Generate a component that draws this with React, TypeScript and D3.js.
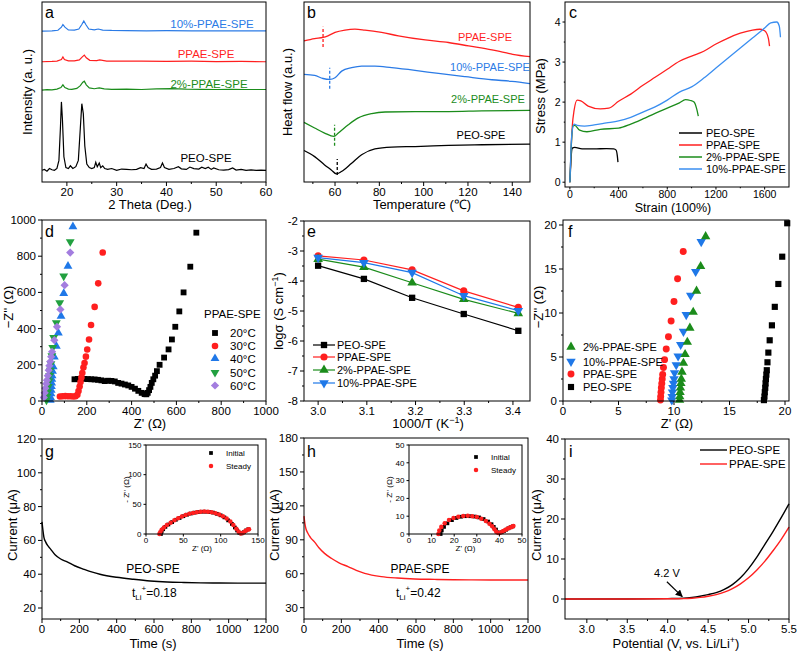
import React from 'react';
import * as d3 from 'd3';

type P = [number, number];

// ---------- a: XRD ----------
const xrdPeo: P[] = [[15,6.5],[15.5,7],[16,6],[16.5,7.5],[17,6.8],[17.5,6.5],[18,7.5],[18.4,12],[18.7,30],[18.9,44.5],[19.1,35],[19.4,14],[19.8,8],[20.3,7.5],[20.7,9],[21.2,7.5],[21.8,8.5],[22.3,12],[22.7,30],[23.0,43.5],[23.3,38],[23.6,20],[24,10],[24.5,8],[25,7.5],[25.5,8],[25.8,11],[26.1,8.5],[26.5,10.5],[26.8,8],[27.2,9],[27.6,7.5],[28.2,7],[29,7.5],[30,6.5],[31,7.2],[32,7],[33,6.8],[34,7],[34.8,8],[35.5,7.5],[35.9,10],[36.3,8],[37,7],[38,7.2],[38.8,8],[39.2,10.5],[39.6,8],[40.5,7],[41.5,7.5],[42.4,8.5],[43,7.3],[44,7],[44.7,8.3],[45.5,7.4],[46.5,7.2],[47.1,8.2],[47.8,7.5],[48.4,8.2],[49,7],[49.5,7.8],[50.5,6.8],[51.5,6.6],[52.5,6.9],[53.3,7.8],[54,6.6],[55,7],[56,6.5],[57,6.7],[58,6.5],[59,6.6],[60,6.5]];
const xrd2: P[] = [[15,51],[16,51.3],[17,51.2],[18,51.6],[18.8,52.5],[19.2,54],[19.6,52.5],[20.3,51.6],[21,51.5],[22,52],[22.7,53.5],[23.2,55.5],[23.5,56],[23.9,54],[24.5,52.3],[25.5,51.8],[26.5,52.3],[27.5,51.7],[29,51.5],[32,51.6],[35,51.4],[38,51.7],[41,51.9],[44,51.6],[47,51.5],[50,51.4],[53,51.5],[56,51.4],[60,51.4]];
const xrdPpae: P[] = [[15,66.8],[17,67],[18,67.2],[18.9,68],[19.2,69.5],[19.5,68],[20.3,67.3],[21.5,67.3],[22.5,67.8],[23.1,69.5],[23.5,70.5],[23.9,69],[24.6,67.6],[26,67.4],[26.6,67.8],[28,67.2],[31,67.1],[35,67.2],[40,67],[45,67.1],[50,66.9],[55,67],[60,66.8]];
const xrd10: P[] = [[15,83.8],[17,84],[18.2,84.3],[18.9,86],[19.2,87.5],[19.6,86],[20.3,84.5],[21.5,84.4],[22.4,85],[23,87.5],[23.4,89.5],[23.8,87.5],[24.4,85],[25.5,84.5],[26.3,85],[27.2,84.4],[29,84.2],[32,84.1],[36,84],[40,84.1],[45,84],[50,84],[55,84],[60,84]];
const xrdTicks = [20, 30, 40, 50, 60];

// ---------- b: DSC ----------
const dscPpae: P[] = [[46,78.4],[50.8,79.7],[54.6,80.3],[56.8,81.2],[60,83.1],[64.5,84.4],[69,84.9],[73.5,84.4],[81,83.1],[88.6,81.2],[100.7,78.9],[111.2,77.5],[120.3,75.6],[130.8,73.4],[136.8,71.9],[140.2,70.9],[148,69.7]];
const dsc10: P[] = [[46,59.8],[50.8,59.2],[54.6,57.5],[57.6,57],[60,57.9],[63,61.6],[67.5,63.5],[72,64.4],[78,64.4],[85.6,63.5],[96.1,62],[106.7,60.3],[118.8,58.5],[130.8,56.8],[139.8,55.9],[148,54.7]];
const dsc2: P[] = [[46,33.1],[50.8,30],[55.3,27.2],[59.5,25.3],[61.5,27.2],[66,31.8],[70.5,35.6],[76.6,38],[82.6,38.9],[96.1,39.1],[111.2,39.1],[126.3,39.5],[148,39.8]];
const dscPeo: P[] = [[46,17.5],[50.8,14.1],[55.3,9.5],[58.3,6.7],[60.6,4.5],[62.9,5.8],[67.5,10.4],[72,15.1],[78,18.4],[85.6,19.4],[96.1,19.7],[111.2,20.3],[126.3,20.7],[148,21]];
const dscMarkT = [54.6, 57.6, 59.8, 61];
const dscMarkLo = [75, 51.8, 20.1, 3.9];
const dscMarkHi = [86.2, 63.5, 31.8, 12.8];
const dscTicks = [60, 80, 100, 120, 140];

// ---------- c: stress-strain ----------
const ssPeo: P[] = [[0,0],[5,0.3],[10,0.6],[20,0.85],[40,0.87],[100,0.83],[200,0.83],[300,0.84],[360,0.83],[380,0.8],[390,0.65],[395,0.5]];
const ssPpae: P[] = [[0,0],[10,0.8],[20,1.4],[35,1.8],[60,2.05],[90,2.03],[150,1.9],[250,1.83],[320,1.85],[400,2.02],[500,2.2],[600,2.42],[700,2.62],[800,2.82],[900,3.02],[1000,3.15],[1100,3.27],[1200,3.45],[1300,3.6],[1400,3.72],[1500,3.8],[1560,3.82],[1600,3.78],[1630,3.6],[1640,3.4]];
const ss2: P[] = [[0,0],[10,0.8],[25,1.4],[40,1.42],[80,1.3],[140,1.26],[250,1.32],[400,1.35],[500,1.45],[600,1.58],[700,1.72],[800,1.85],[900,1.98],[950,2.06],[990,2.04],[1020,2.0],[1040,1.85],[1055,1.65]];
const ss10: P[] = [[0,0],[10,0.9],[20,1.3],[35,1.45],[60,1.42],[120,1.4],[200,1.43],[300,1.48],[400,1.53],[500,1.62],[600,1.75],[700,1.88],[800,2.05],[900,2.25],[1000,2.38],[1100,2.6],[1200,2.85],[1300,3.1],[1400,3.35],[1500,3.6],[1600,3.85],[1650,3.98],[1700,4.0],[1720,3.9],[1730,3.62]];
const ssXTicks = [0, 400, 800, 1200, 1600];
const ssYTicks = [0, 1, 2, 3, 4];

// ---------- d: EIS of PPAE-SPE ----------
const eis20: P[] = [[145,120],[160,122],[175,122],[190,122],[205,121],[220,120],[235,119],[250,117],[265,114],[280,110],[295,112],[310,111],[325,108],[340,100],[355,96],[370,91],[385,86],[400,78],[415,68],[430,56],[445,45],[458,38],[466,37],[472,45],[478,60],[484,78],[490,100],[497,120],[505,140],[513,165],[525,200],[545,240],[565,285],[580,340],[595,410],[613,495],[632,600],[662,742],[689,930]];
const eis30: P[] = [[80,25],[92,26],[104,27],[116,26],[128,26],[140,25],[150,26],[158,35],[163,55],[168,80],[172,105],[176,130],[180,155],[185,185],[190,210],[196,245],[202,285],[210,340],[219,420],[235,520],[251,650],[271,820]];
const eis40: P[] = [[37,5],[38,20],[40,40],[41,60],[42,80],[43,100],[44,120],[45,140],[47,165],[50,190],[55,243],[64,303],[73,376],[85,469],[97,594],[116,745],[138,963]];
const eis50: P[] = [[20,5],[22,25],[25,50],[28,80],[31,110],[34,140],[37,170],[40,205],[44,250],[48,295],[52,350],[64,432],[79,542],[97,690],[126,880]];
const eis60: P[] = [[8,20],[12,45],[15,70],[19,95],[22,115],[26,140],[30,170],[33,195],[37,218],[41,245],[45,272],[55,336],[67,410],[82,506],[101,640],[126,820]];
const eisTemps = ['20°C', '30°C', '40°C', '50°C', '60°C'];
const eisTicks = [0, 200, 400, 600, 800, 1000];

// ---------- e: Arrhenius ----------
const invT = [3.0, 3.094, 3.193, 3.299, 3.411];
const logPeo = [-3.49, -3.93, -4.56, -5.10, -5.66];
const logPpae = [-3.16, -3.30, -3.63, -4.33, -4.88];
const log2 = [-3.27, -3.54, -4.06, -4.61, -5.08];
const log10 = [-3.22, -3.39, -3.72, -4.49, -4.99];
const arrXTicks = [3.0, 3.1, 3.2, 3.3, 3.4];
const arrYTicks = [-2, -3, -4, -5, -6, -7, -8];

// ---------- f: EIS high frequency ----------
const hfPeo: P[] = [[18.1,0.1],[18.15,0.5],[18.18,1.0],[18.22,1.5],[18.25,2.0],[18.28,2.5],[18.32,3.0],[18.36,3.5],[18.42,4.4],[18.5,5.5],[18.62,6.9],[18.82,8.6],[19.08,10.7],[19.4,13.3],[19.75,16.4],[20.2,20.2]];
const hfPpae: P[] = [[8.78,0.1],[8.8,0.5],[8.83,1.0],[8.86,1.5],[8.9,2.0],[8.94,2.5],[8.98,3.0],[9.05,3.8],[9.15,4.7],[9.3,5.9],[9.5,7.3],[9.74,9.1],[10.0,11.3],[10.32,13.9],[10.83,17.0]];
const hf10: P[] = [[9.8,0.1],[9.83,0.5],[9.86,1.0],[9.9,1.5],[9.95,2.0],[10.0,2.5],[10.05,3.2],[10.2,4.1],[10.37,5.1],[10.6,6.4],[10.85,7.9],[11.1,9.8],[11.5,12.0],[11.95,14.7],[12.45,18.1]];
const hf2: P[] = [[10.5,0.1],[10.52,0.5],[10.55,1.0],[10.58,1.5],[10.62,2.0],[10.66,2.5],[10.72,3.3],[10.85,4.3],[11.0,5.3],[11.2,6.7],[11.43,8.3],[11.73,10.1],[12.03,12.5],[12.4,15.3],[12.85,18.7]];
const hfTicks = [0, 5, 10, 15, 20];

// ---------- g/h: chronoamperometry ----------
const caPeo: P[] = [[0,71],[5,66],[10,62],[20,59],[30,57],[45,55],[70,51.5],[100,49],[135,47.3],[175,45],[225,42.9],[270,41.2],[310,40],[400,38.2],[490,37],[580,36],[670,35.4],[760,35.1],[850,34.9],[950,34.8],[1050,34.7],[1200,34.7]];
const caPpae: P[] = [[0,111],[5,104],[10,100],[20,96],[35,92],[57,88],[80,83],[110,78],[146,73.7],[190,69.5],[236,66.3],[280,63],[325,60.4],[414,57.5],[500,56.2],[593,55.4],[700,55],[800,54.7],[900,54.6],[1000,54.5],[1200,54.5]];
const timeTicks = [0, 200, 400, 600, 800, 1000, 1200];
const gYTicks = [20, 40, 60, 80, 100, 120];
const hYTicks = [30, 60, 90, 120, 150, 180];

const insGInit: P[] = [[20,0],[21,4],[23,8],[26,12],[30,16],[35,20],[40,24],[45,27],[50,30],[55,32.5],[60,34.5],[65,36],[70,37],[75,37.5],[80,37.5],[85,37],[90,36],[95,34],[100,31.5],[105,28],[110,23],[115,17],[119,11],[122,6],[125,2],[128,1],[131,3],[134,6],[137,8]];
const insGSteady: P[] = [[18,0],[19,3],[21,7],[24,11],[28,15],[33,19],[38,23],[43,26.5],[48,29.5],[53,32],[58,34],[63,35.5],[68,36.8],[73,37.5],[78,37.8],[83,37.5],[88,36.5],[93,35],[98,33],[103,30],[108,26],[113,21],[117,15],[121,9],[124,4],[127,1],[130,2],[133,5],[136,7],[138,8]];
const insHInit: P[] = [[14,0],[14.5,2],[15.5,4],[17,6],[19,7.8],[21,9],[23,9.7],[25,10],[27,10],[29,9.8],[31,9.3],[33,8.4],[35,7],[36.5,5.5],[37.5,4],[38.5,2.5],[39.2,1],[40,0.6],[41,1],[42,1.6],[43,2.4],[44,3.2],[45,3.8],[46,4.3]];
const insHSteady: P[] = [[13,0],[13.4,2],[14.3,4],[15.8,6],[17.7,7.8],[19.7,9],[21.8,9.7],[24,10.1],[26,10.2],[28,10],[30,9.5],[32,8.6],[34,7.3],[35.6,5.8],[36.8,4.3],[37.8,2.7],[38.6,1.2],[39.5,0.6],[40.5,0.9],[41.5,1.5],[42.5,2.2],[43.5,2.9],[44.5,3.5],[45.5,4],[46.2,4.5]];
const insGTicks = [0, 50, 100, 150];
const insHTicks = [0, 10, 20, 30, 40, 50];

// ---------- i: LSV ----------
const lsvPeo: P[] = [[2.73,0],[3.0,0],[3.5,0],[4.0,0.1],[4.2,0.2],[4.3,0.4],[4.4,0.7],[4.5,1.1],[4.6,1.6],[4.7,2.4],[4.8,3.6],[4.9,5.3],[5.0,7.6],[5.1,10.4],[5.2,13.6],[5.3,16.8],[5.4,20.2],[5.5,23.8]];
const lsvPpae: P[] = [[2.73,0],[3.0,0],[3.5,0],[4.0,0.05],[4.2,0.1],[4.3,0.2],[4.4,0.4],[4.5,0.7],[4.6,1.1],[4.7,1.7],[4.8,2.6],[4.9,3.8],[5.0,5.3],[5.1,7.2],[5.2,9.4],[5.3,12],[5.4,14.8],[5.5,18]];
const lsvXTicks = [3.0, 3.5, 4.0, 4.5, 5.0, 5.5];
const lsvYTicks = [0, 10, 20, 30, 40];

const FONT = 'Arial, "Liberation Sans", sans-serif';
const BLACK = '#000';
const RED = '#ff1f1f';
const GREEN = '#1b8c1b';
const BLUE = '#2b7be6';
const TGREEN = '#22a040';
const TBLUE = '#1f78e8';
const PURPLE = '#a37ddf';

type Lin = d3.ScaleLinear<number, number>;
const sc = (d: [number, number], r: [number, number]) => d3.scaleLinear().domain(d).range(r);
const path = (x: Lin, y: Lin, pts: P[], smooth = true) =>
  (smooth ? d3.line<P>().x(p => x(p[0])).y(p => y(p[1])).curve(d3.curveMonotoneX)
    : d3.line<P>().x(p => x(p[0])).y(p => y(p[1])))(pts) || '';

const sym = (kind: string, size: number) => {
  const t = kind === 'square' || kind === 'diamond' ? d3.symbolSquare
    : kind === 'circle' ? d3.symbolCircle : d3.symbolTriangle;
  return d3.symbol().type(t).size(size)() || '';
};
const rot = (kind: string) => (kind === 'down' ? 180 : kind === 'diamond' ? 45 : 0);

const Marker = ({ cx, cy, kind, size, color }: { cx: number; cy: number; kind: string; size: number; color: string }) => (
  <path d={sym(kind, size)} transform={`translate(${cx},${cy}) rotate(${rot(kind)})`} fill={color} />
);

interface AxProps {
  x: Lin; y: Lin; xt: number[]; yt?: number[]; xm?: number[]; ym?: number[];
  xf?: (v: number) => string; yf?: (v: number) => string; fs?: number; tl?: number;
}
const Axes = ({ x, y, xt, yt = [], xm = [], ym = [], xf = String, yf = String, fs = 11.5, tl = 4 }: AxProps) => {
  const [l, r] = x.range();
  const [b, t] = y.range();
  return (
    <g fontFamily={FONT} fontSize={fs}>
      <rect x={l} y={t} width={r - l} height={b - t} fill="none" stroke="#000" strokeWidth={1} />
      {xt.map(v => (
        <g key={'x' + v}>
          <line x1={x(v)} x2={x(v)} y1={b} y2={b + tl} stroke="#000" />
          <text x={x(v)} y={b + tl + fs * 0.85} textAnchor="middle">{xf(v)}</text>
        </g>
      ))}
      {xm.map(v => <line key={'xm' + v} x1={x(v)} x2={x(v)} y1={b} y2={b + tl / 2} stroke="#000" />)}
      {yt.map(v => (
        <g key={'y' + v}>
          <line x1={l - tl} x2={l} y1={y(v)} y2={y(v)} stroke="#000" />
          <text x={l - tl - 2} y={y(v) + fs * 0.35} textAnchor="end">{yf(v)}</text>
        </g>
      ))}
      {ym.map(v => <line key={'ym' + v} x1={l - tl / 2} x2={l} y1={y(v)} y2={y(v)} stroke="#000" />)}
    </g>
  );
};

const Title = ({ x, y, children, rotate = false, fs = 13 }: { x: number; y: number; children: React.ReactNode; rotate?: boolean; fs?: number }) => (
  <text x={x} y={y} fontFamily={FONT} fontSize={fs} textAnchor="middle" transform={rotate ? `rotate(-90,${x},${y})` : undefined}>{children}</text>
);
const Letter = ({ x, y, s }: { x: number; y: number; s: string }) => (
  <text x={x} y={y} fontFamily={FONT} fontSize={16}>{s}</text>
);
const Lbl = ({ x, y, s, c, fs = 11.5, anchor = 'middle' }: { x: number; y: number; s: string; c: string; fs?: number; anchor?: string }) => (
  <text x={x} y={y} fontFamily={FONT} fontSize={fs} fill={c} textAnchor={anchor as any}>{s}</text>
);

const TLi = ({ x, y, v }: { x: number; y: number; v: string }) => (
  <text x={x} y={y} fontFamily={FONT} fontSize={12}>t<tspan fontSize={8} dy={3}>Li</tspan><tspan fontSize={8} dy={-9}>+</tspan><tspan dy={6}>={v}</tspan></text>
);

const minors = (a: number, b: number, s: number) => d3.range(a, b + s / 2, s);

function PanelA() {
  const x = sc([15, 60], [42, 266]);
  const y = sc([0, 100], [182, 2]);
  return (
    <g>
      {[[xrdPeo, BLACK], [xrd2, GREEN], [xrdPpae, RED], [xrd10, BLUE]].map(([d, c], i) => (
        <path key={i} d={path(x, y, d as P[], false)} fill="none" stroke={c as string} strokeWidth={1.2} />
      ))}
      <Axes x={x} y={y} xt={xrdTicks} xm={minors(25, 55, 10)} />
      <Lbl x={212} y={28} s="10%-PPAE-SPE" c={BLUE} />
      <Lbl x={206} y={58} s="PPAE-SPE" c={RED} />
      <Lbl x={209} y={88} s="2%-PPAE-SPE" c={GREEN} />
      <Lbl x={206} y={162} s="PEO-SPE" c={BLACK} />
      <Letter x={45} y={18} s="a" />
      <Title x={150} y={209}>2 Theta (Deg.)</Title>
      <Title x={32} y={92} rotate>Intensity (a. u.)</Title>
    </g>
  );
}

function PanelB() {
  const x = sc([46, 148], [304, 530]);
  const y = sc([0, 100], [182, 2]);
  const cols = [RED, BLUE, GREEN, BLACK];
  return (
    <g>
      {[dscPpae, dsc10, dsc2, dscPeo].map((d, i) => (
        <path key={i} d={path(x, y, d)} fill="none" stroke={cols[i]} strokeWidth={1.3} />
      ))}
      {dscMarkT.map((t, i) => (
        <line key={i} x1={x(t)} x2={x(t)} y1={y(dscMarkLo[i])} y2={y(dscMarkHi[i])} stroke={cols[i]} strokeWidth={1.3} strokeDasharray="3,2" />
      ))}
      <Axes x={x} y={y} xt={dscTicks} xm={[50, 70, 90, 110, 130]} />
      <Lbl x={485} y={41} s="PPAE-SPE" c={RED} fs={11} />
      <Lbl x={490} y={71} s="10%-PPAE-SPE" c={BLUE} fs={11} />
      <Lbl x={488} y={103} s="2%-PPAE-SPE" c={GREEN} fs={11} />
      <Lbl x={481} y={139} s="PEO-SPE" c={BLACK} fs={11} />
      <Letter x={307} y={18} s="b" />
      <Title x={422} y={209}>Temperature (℃)</Title>
      <Title x={292} y={92} rotate>Heat flow (a.u.)</Title>
    </g>
  );
}

function PanelC() {
  const x = sc([-40, 1800], [565, 789]);
  const y = sc([-0.12, 4.5], [187, 2]);
  const series: [P[], string, string][] = [[ssPeo, BLACK, 'PEO-SPE'], [ssPpae, RED, 'PPAE-SPE'], [ss2, GREEN, '2%-PPAE-SPE'], [ss10, '#3a8ef0', '10%-PPAE-SPE']];
  const rows = [133, 145, 157, 169];
  return (
    <g>
      {series.map(([d, c], i) => (
        <path key={i} d={path(x, y, d)} fill="none" stroke={c} strokeWidth={1.3} />
      ))}
      <Axes x={x} y={y} xt={ssXTicks} yt={ssYTicks} xm={[200, 600, 1000, 1400]} ym={[0.5, 1.5, 2.5, 3.5]} fs={10.5} tl={2.5} />
      {series.map(([, c, n], i) => (
        <g key={n}>
          <line x1={679} x2={702} y1={rows[i]} y2={rows[i]} stroke={c} strokeWidth={1.5} />
          <Lbl x={706} y={rows[i] + 4} s={n} c={BLACK} fs={11} anchor="start" />
        </g>
      ))}
      <Letter x={569} y={18} s="c" />
      <Title x={673} y={212} fs={12.5}>Strain (100%)</Title>
      <Title x={545} y={96} rotate>Stress (MPa)</Title>
    </g>
  );
}

function PanelD() {
  const x = sc([0, 1000], [42, 266]);
  const y = sc([0, 1000], [401, 220]);
  const series: [P[], string, string][] = [[eis20, BLACK, 'square'], [eis30, RED, 'circle'], [eis40, TBLUE, 'up'], [eis50, TGREEN, 'down'], [eis60, PURPLE, 'diamond']];
  const rows = [333, 346, 358.5, 372.5, 385.5];
  return (
    <g>
      {series.map(([d, c, k], i) => (
        <g key={i}>{d.map((p, j) => <Marker key={j} cx={x(p[0])} cy={y(p[1])} kind={k} size={34} color={c} />)}</g>
      ))}
      <Axes x={x} y={y} xt={eisTicks} yt={[0, 200, 400, 600, 800, 1000]} xm={[100, 300, 500, 700, 900]} ym={[100, 300, 500, 700, 900]} />
      <Lbl x={204} y={318} s="PPAE-SPE" c={BLACK} fs={11.5} anchor="start" />
      {series.map(([, c, k], i) => (
        <g key={k}>
          <Marker cx={215} cy={rows[i]} kind={k} size={34} color={c} />
          <Lbl x={230} y={rows[i] + 4} s={eisTemps[i]} c={BLACK} fs={11.5} anchor="start" />
        </g>
      ))}
      <Letter x={45} y={237} s="d" />
      <Title x={150} y={428}>Z' (Ω)</Title>
      <Title x={13} y={307} rotate>−Z'' (Ω)</Title>
    </g>
  );
}

function PanelE() {
  const x = sc([2.971, 3.435], [304, 530]);
  const y = sc([-8, -2], [401, 221]);
  const series: [number[], string, string, string][] = [[logPeo, BLACK, 'square', 'PEO-SPE'], [logPpae, RED, 'circle', 'PPAE-SPE'], [log2, GREEN, 'up', '2%-PPAE-SPE'], [log10, TBLUE, 'down', '10%-PPAE-SPE']];
  const rows = [345, 357, 370, 383];
  return (
    <g>
      {series.map(([v, c, k], i) => {
        const pts: P[] = invT.map((t, j) => [t, v[j]]);
        return (
          <g key={i}>
            <path d={path(x, y, pts, false)} fill="none" stroke={c} strokeWidth={1.2} />
            {pts.map((p, j) => <Marker key={j} cx={x(p[0])} cy={y(p[1])} kind={k} size={40} color={c} />)}
          </g>
        );
      })}
      <Axes x={x} y={y} xt={arrXTicks} yt={arrYTicks} xf={d3.format('.1f')} xm={[3.05, 3.15, 3.25, 3.35]} ym={[-2.5, -3.5, -4.5, -5.5, -6.5, -7.5]} />
      {series.map(([, c, k, n], i) => (
        <g key={n}>
          <line x1={313} x2={335} y1={rows[i]} y2={rows[i]} stroke={c} strokeWidth={1.2} />
          <Marker cx={324} cy={rows[i]} kind={k} size={40} color={c} />
          <Lbl x={337} y={rows[i] + 4} s={n} c={BLACK} fs={11} anchor="start" />
        </g>
      ))}
      <Letter x={307} y={237} s="e" />
      <Title x={428} y={428}>1000/T (K<tspan dy={-5} fontSize={9}>−1</tspan><tspan dy={5}>)</tspan></Title>
      <Title x={283} y={311} rotate>logσ (S cm<tspan dy={-5} fontSize={9}>−1</tspan><tspan dy={5}>)</tspan></Title>
    </g>
  );
}

function PanelF() {
  const x = sc([0, 20.36], [563, 789]);
  const y = sc([0, 20.57], [401, 220]);
  const series: [P[], string, string, string][] = [[hf2, GREEN, 'up', '2%-PPAE-SPE'], [hf10, TBLUE, 'down', '10%-PPAE-SPE'], [hfPpae, RED, 'circle', 'PPAE-SPE'], [hfPeo, BLACK, 'square', 'PEO-SPE']];
  const rows = [347, 361.5, 374, 387];
  return (
    <g>
      {[...series].reverse().map(([d, c, k]) => (
        <g key={k}>{d.map((p, j) => <Marker key={j} cx={x(p[0])} cy={y(p[1])} kind={k} size={38} color={c} />)}</g>
      ))}
      <Axes x={x} y={y} xt={hfTicks} yt={hfTicks} xm={[2.5, 7.5, 12.5, 17.5]} ym={[2.5, 7.5, 12.5, 17.5]} />
      {series.map(([, c, k, n], i) => (
        <g key={n}>
          <Marker cx={571} cy={rows[i]} kind={k} size={38} color={c} />
          <Lbl x={583} y={rows[i] + 4} s={n} c={BLACK} fs={11} anchor="start" />
        </g>
      ))}
      <Letter x={568} y={237} s="f" />
      <Title x={677} y={428}>Z' (Ω)</Title>
      <Title x={543} y={307} rotate>−Z'' (Ω)</Title>
    </g>
  );
}

function Inset({ l, r, t, b, max, ticks, init, steady, leg }: { l: number; r: number; t: number; b: number; max: number; ticks: number[]; init: P[]; steady: P[]; leg: [number, number] }) {
  const x = sc([0, max], [l, r]);
  const y = sc([0, max], [b, t]);
  return (
    <g>
      <rect x={l} y={t} width={r - l} height={b - t} fill="#fff" />
      {init.map((p, j) => <Marker key={'i' + j} cx={x(p[0])} cy={y(p[1])} kind="square" size={14} color={BLACK} />)}
      {steady.map((p, j) => <Marker key={'s' + j} cx={x(p[0])} cy={y(p[1])} kind="circle" size={16} color={RED} />)}
      <Axes x={x} y={y} xt={ticks} yt={ticks} fs={8} tl={2.5} />
      <Marker cx={leg[0]} cy={leg[1]} kind="square" size={14} color={BLACK} />
      <Lbl x={leg[0] + 15} y={leg[1] + 3} s="Initial" c={BLACK} fs={8} anchor="start" />
      <Marker cx={leg[0]} cy={leg[1] + 13} kind="circle" size={16} color={RED} />
      <Lbl x={leg[0] + 15} y={leg[1] + 16} s="Steady" c={BLACK} fs={8} anchor="start" />
      <Title x={(l + r) / 2} y={b + 17} fs={8}>Z' (Ω)</Title>
      <Title x={l - 17} y={(t + b) / 2} fs={8} rotate>- Z'' (Ω)</Title>
    </g>
  );
}

function PanelG() {
  const x = sc([0, 1200], [42, 266]);
  const y = sc([13.5, 120], [619, 439]);
  return (
    <g>
      <path d={path(x, y, caPeo)} fill="none" stroke={BLACK} strokeWidth={1.4} />
      <Axes x={x} y={y} xt={timeTicks} yt={gYTicks} xm={[100, 300, 500, 700, 900, 1100]} ym={[30, 50, 70, 90, 110]} />
      <Inset l={146} r={258} t={445} b={534} max={150} ticks={insGTicks} init={insGInit} steady={insGSteady} leg={[211, 453]} />
      <Lbl x={153} y={573} s="PEO-SPE" c={BLACK} fs={12} />
      <TLi x={132} y={597} v="0.18" />
      <Letter x={45} y={457} s="g" />
      <Title x={153} y={648}>Time (s)</Title>
      <Title x={17} y={525} rotate>Current (μA)</Title>
    </g>
  );
}

function PanelH() {
  const x = sc([0, 1200], [304, 528]);
  const y = sc([20, 180], [619, 438]);
  return (
    <g>
      <path d={path(x, y, caPpae)} fill="none" stroke={RED} strokeWidth={1.4} />
      <Axes x={x} y={y} xt={timeTicks} yt={hYTicks} xm={[100, 300, 500, 700, 900, 1100]} ym={[45, 75, 105, 135, 165]} />
      <Inset l={409} r={522} t={445} b={534} max={50} ticks={insHTicks} init={insHInit} steady={insHSteady} leg={[476, 457]} />
      <Lbl x={420} y={573} s="PPAE-SPE" c={BLACK} fs={12} />
      <TLi x={396} y={597} v="0.42" />
      <Letter x={307} y={457} s="h" />
      <Title x={420} y={648}>Time (s)</Title>
      <Title x={279} y={525} rotate>Current (μA)</Title>
    </g>
  );
}

function PanelI() {
  const x = sc([2.73, 5.5], [565, 789]);
  const y = sc([-5, 40], [619, 439]);
  return (
    <g>
      <path d={path(x, y, lsvPeo)} fill="none" stroke={BLACK} strokeWidth={1.4} />
      <path d={path(x, y, lsvPpae)} fill="none" stroke={RED} strokeWidth={1.4} />
      <Axes x={x} y={y} xt={lsvXTicks} yt={lsvYTicks} xf={d3.format('.1f')} xm={[3.25, 3.75, 4.25, 4.75, 5.25]} ym={[5, 15, 25, 35]} />
      <line x1={700} x2={727} y1={450} y2={450} stroke={BLACK} strokeWidth={1.4} />
      <Lbl x={729} y={454} s="PEO-SPE" c={BLACK} fs={11.5} anchor="start" />
      <line x1={700} x2={727} y1={464} y2={464} stroke={RED} strokeWidth={1.4} />
      <Lbl x={729} y={468} s="PPAE-SPE" c={BLACK} fs={11.5} anchor="start" />
      <Lbl x={x(3.99)} y={y(5.6)} s="4.2 V" c={BLACK} fs={11} />
      <defs>
        <marker id="arr" viewBox="0 0 10 10" refX={9} refY={5} markerWidth={6} markerHeight={6} orient="auto">
          <path d="M0,0 L10,5 L0,10 z" fill="#000" />
        </marker>
      </defs>
      <line x1={x(3.99)} y1={y(4.3)} x2={x(4.18)} y2={y(0.6)} stroke="#000" strokeWidth={1.2} markerEnd="url(#arr)" />
      <Letter x={569} y={457} s="i" />
      <Title x={676} y={648}>Potential (V, vs. Li/Li<tspan dy={-5} fontSize={9}>+</tspan><tspan dy={5}>)</tspan></Title>
      <Title x={541} y={525} rotate>Current (μA)</Title>
    </g>
  );
}

export default function App() {
  return (
    <svg width={798} height={653} style={{ position: 'absolute', left: 0, top: 0, background: '#fff' }}>
      <rect width={798} height={653} fill="#fff" />
      <PanelA />
      <PanelB />
      <PanelC />
      <PanelD />
      <PanelE />
      <PanelF />
      <PanelG />
      <PanelH />
      <PanelI />
    </svg>
  );
}
